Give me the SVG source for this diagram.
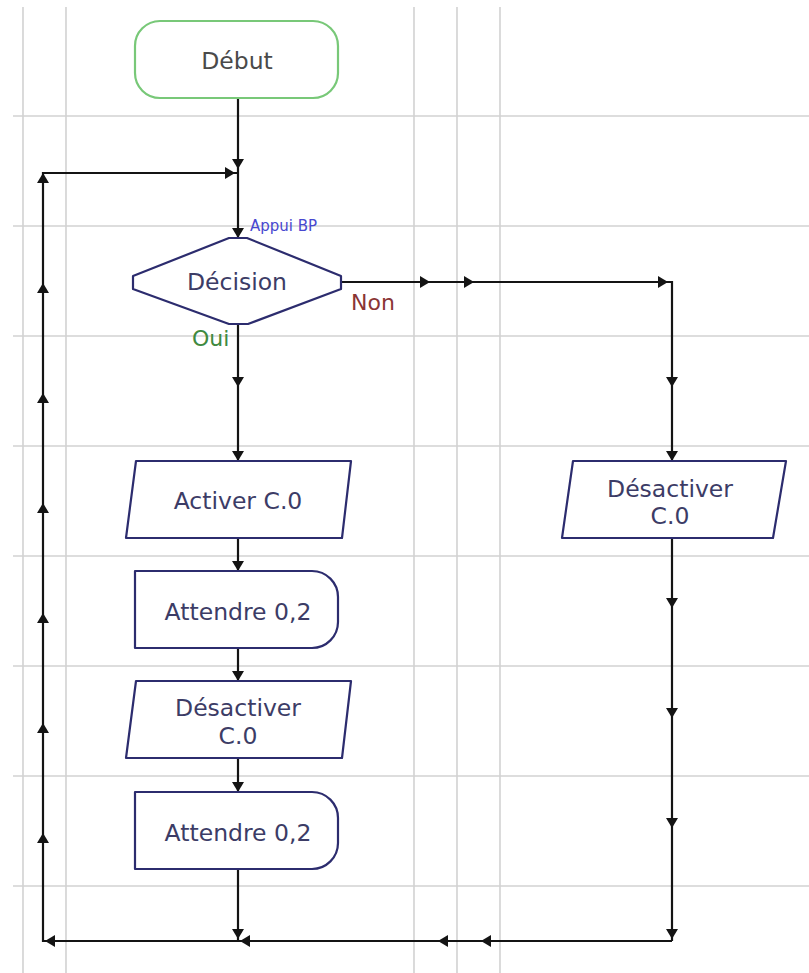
<svg xmlns="http://www.w3.org/2000/svg" xmlns:xlink="http://www.w3.org/1999/xlink" width="809" height="973" viewBox="0 0 809 973">
  <style>
    .grid { stroke: #d2d2d2; stroke-width: 1.6; fill: none; }
    .wire { stroke: #141414; stroke-width: 2.2; fill: none; }
    .box { fill: #ffffff; stroke: #2c2c6e; stroke-width: 2.2; stroke-linejoin: round; }
    .start { fill: #ffffff; stroke: #78c878; stroke-width: 2.2; }
    .lbl { font-family: "DejaVu Sans", Verdana, sans-serif; font-size: 23.5px; fill: #3c3c66; text-anchor: middle; }
    .lbl-start { fill: #4a4a4a; }
    .tag { font-family: "DejaVu Sans", Verdana, sans-serif; }
  </style>
  <defs>
    <!-- filled arrowhead, tip at origin, pointing along +x -->
    <path id="ah" d="M0,0 L-10,-6 L-10,6 Z" fill="#141414"/>
  </defs>

  <rect width="809" height="973" fill="#ffffff"/>

  <!-- background grid -->
  <g id="grid" class="grid">
    <path d="M13,116H809M13,226H809M13,336H809M13,446H809M13,556H809M13,666H809M13,776H809M13,886H809"/>
    <path d="M23,7V973M66,7V973M414,7V973M457,7V973M500,7V973"/>
  </g>

  <!-- connectors -->
  <g id="connectors">
    <!-- main column -->
    <path class="wire" d="M238,98V238M238,324V461M238,538V571M238,648V681M238,758V792M238,869V941"/>
    <!-- loop return: bottom bus, left riser, top feed -->
    <path class="wire" d="M672,941H43V173H238"/>
    <!-- Non branch -->
    <path class="wire" d="M341,282H672V461M672,538V941"/>

    <!-- arrowheads, main column (down) -->
    <use xlink:href="#ah" transform="translate(238,169) rotate(90)"/>
    <use xlink:href="#ah" transform="translate(238,238) rotate(90)"/>
    <use xlink:href="#ah" transform="translate(238,387) rotate(90)"/>
    <use xlink:href="#ah" transform="translate(238,461) rotate(90)"/>
    <use xlink:href="#ah" transform="translate(238,571) rotate(90)"/>
    <use xlink:href="#ah" transform="translate(238,681) rotate(90)"/>
    <use xlink:href="#ah" transform="translate(238,792) rotate(90)"/>
    <use xlink:href="#ah" transform="translate(238,939) rotate(90)"/>
    <!-- top feed (right) -->
    <use xlink:href="#ah" transform="translate(235,173)"/>
    <!-- left riser (up) -->
    <use xlink:href="#ah" transform="translate(43,173) rotate(-90)"/>
    <use xlink:href="#ah" transform="translate(43,283) rotate(-90)"/>
    <use xlink:href="#ah" transform="translate(43,393) rotate(-90)"/>
    <use xlink:href="#ah" transform="translate(43,503) rotate(-90)"/>
    <use xlink:href="#ah" transform="translate(43,613) rotate(-90)"/>
    <use xlink:href="#ah" transform="translate(43,723) rotate(-90)"/>
    <use xlink:href="#ah" transform="translate(43,833) rotate(-90)"/>
    <!-- bottom bus (left) -->
    <use xlink:href="#ah" transform="translate(45,941) rotate(180)"/>
    <use xlink:href="#ah" transform="translate(240,941) rotate(180)"/>
    <use xlink:href="#ah" transform="translate(438,941) rotate(180)"/>
    <use xlink:href="#ah" transform="translate(481,941) rotate(180)"/>
    <!-- Non branch (right, then down) -->
    <use xlink:href="#ah" transform="translate(430,282)"/>
    <use xlink:href="#ah" transform="translate(474,282)"/>
    <use xlink:href="#ah" transform="translate(668,282)"/>
    <use xlink:href="#ah" transform="translate(672,387) rotate(90)"/>
    <use xlink:href="#ah" transform="translate(672,461) rotate(90)"/>
    <use xlink:href="#ah" transform="translate(672,608) rotate(90)"/>
    <use xlink:href="#ah" transform="translate(672,718) rotate(90)"/>
    <use xlink:href="#ah" transform="translate(672,828) rotate(90)"/>
    <use xlink:href="#ah" transform="translate(672,939) rotate(90)"/>
  </g>

  <!-- Début -->
  <g id="debut">
    <rect class="start" x="135" y="21" width="203" height="77" rx="25" ry="25"/>
    <text class="lbl lbl-start" x="237" y="69">Début</text>
  </g>

  <!-- Décision -->
  <g id="decision">
    <path class="box" d="M229,238H247L341,276V289L248,324H229L133,289V276Z"/>
    <text class="lbl" x="237" y="290">Décision</text>
    <text class="tag" x="250" y="231" font-size="15" fill="#4848d0">Appui BP</text>
    <text class="tag" x="351" y="310" font-size="22" fill="#8a3434">Non</text>
    <text class="tag" x="192" y="346" font-size="22" fill="#3f8a3f">Oui</text>
  </g>

  <!-- Activer C.0 -->
  <g id="activer">
    <path class="box" d="M136,461H351L342,538H126Z"/>
    <text class="lbl" x="238" y="509">Activer C.0</text>
  </g>

  <!-- Attendre 0,2 (first) -->
  <g id="attendre1">
    <path class="box" d="M135,571H312A26,26 0 0 1 338,597V622A26,26 0 0 1 312,648H135Z"/>
    <text class="lbl" x="238" y="620">Attendre 0,2</text>
  </g>

  <!-- Désactiver C.0 (left column) -->
  <g id="desactiver1">
    <path class="box" d="M136,681H351L342,758H126Z"/>
    <text class="lbl" x="238" y="716">Désactiver</text>
    <text class="lbl" x="238" y="744">C.0</text>
  </g>

  <!-- Attendre 0,2 (second) -->
  <g id="attendre2">
    <path class="box" d="M135,792H312A26,26 0 0 1 338,818V843A26,26 0 0 1 312,869H135Z"/>
    <text class="lbl" x="238" y="841">Attendre 0,2</text>
  </g>

  <!-- Désactiver C.0 (Non branch) -->
  <g id="desactiver2">
    <path class="box" d="M573,461H786L773,538H562Z"/>
    <text class="lbl" x="670" y="497">Désactiver</text>
    <text class="lbl" x="670" y="524">C.0</text>
  </g>
</svg>
